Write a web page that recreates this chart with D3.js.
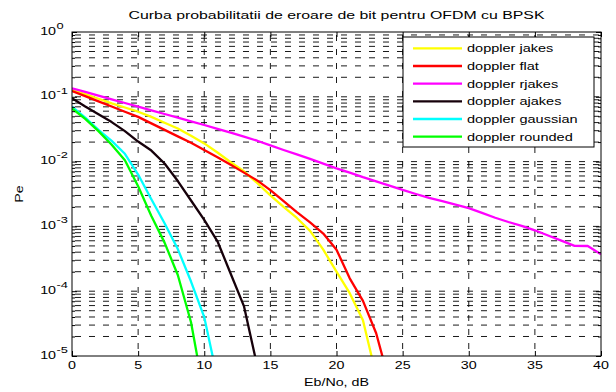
<!DOCTYPE html>
<html>
<head>
<meta charset="utf-8">
<script src="https://cdn.jsdelivr.net/npm/d3@7"></script>
<style>
  body { margin: 0; background: #fff; }
  text { font-family: Arial, "Liberation Sans", Helvetica, sans-serif; fill: #000; }
</style>
</head>
<body>
<svg id="chart" width="616" height="392"></svg>
<script>
// Eb/No axis (dB)
const ebNo = [0, 1, 2, 3, 4, 5, 6, 7, 8, 9, 10, 11, 12, 13, 14, 15, 16, 17, 18, 19, 20,
              21, 22, 23, 24, 25, 26, 27, 28, 29, 30, 31, 32, 33, 34, 35, 36, 37, 38, 39, 40];

// Bit error probability per Doppler spectrum, one value per dB step from 0 dB
const peJakes = [0.1274, 0.1096, 0.0933, 0.0794, 0.0684, 0.0589, 0.0490, 0.0398, 0.0324, 0.0251,
                 0.0191, 0.0138, 0.00977, 0.00708, 0.00468, 0.00302, 0.00200, 0.00135, 0.000851,
                 0.000437, 0.000200, 0.0000933, 0.0000355, 0.00000501];
const peFlat = [0.1230, 0.1023, 0.0851, 0.0708, 0.0589, 0.0490, 0.0389, 0.0309, 0.0245, 0.0195,
                0.0151, 0.0117, 0.00891, 0.00676, 0.00513, 0.00363, 0.00245, 0.00166, 0.00115,
                0.000776, 0.000437, 0.000158, 0.0000708, 0.0000224, 0.00000398];
const peRjakes = [0.1352, 0.1189, 0.1042, 0.0912, 0.0802, 0.0703, 0.0617, 0.0543, 0.0479, 0.0419,
                  0.0367, 0.0320, 0.0279, 0.0243, 0.0210, 0.0178, 0.0151, 0.0129, 0.0110, 0.00933,
                  0.00787, 0.00676, 0.00575, 0.00495, 0.00427, 0.00365, 0.00316, 0.00275, 0.00245,
                  0.00216, 0.00191, 0.00162, 0.00136, 0.00117, 0.00102, 0.000871, 0.000724,
                  0.000603, 0.000501, 0.000498, 0.000372];
const peAjakes = [0.0955, 0.0708, 0.0537, 0.0407, 0.0295, 0.0204, 0.0148, 0.00933, 0.00501,
                  0.00251, 0.00126, 0.000589, 0.000186, 0.0000589, 0.00000708];
const peGaussian = [0.0708, 0.0479, 0.0309, 0.0209, 0.0132, 0.00631, 0.00263, 0.00112, 0.000447,
                    0.000141, 0.0000398, 0.00000447];
const peRounded = [0.0661, 0.0457, 0.0295, 0.0182, 0.0105, 0.00417, 0.00145, 0.000562, 0.000178,
                   0.0000331, 0.00000251];

const seriesNames = ["doppler jakes", "doppler flat", "doppler rjakes",
                     "doppler ajakes", "doppler gaussian", "doppler rounded"];
const seriesColors = ["#ffff00", "#ff0000", "#ff00ff", "#16000a", "#00ffff", "#00ff00"];

const xTickValues = [0, 5, 10, 15, 20, 25, 30, 35, 40];
const yDecades = [1e-5, 1e-4, 1e-3, 1e-2, 1e-1, 1];
const yExponents = ["-5", "-4", "-3", "-2", "-1", "0"];

const titleText = "Curba probabilitatii de eroare de bit pentru OFDM cu BPSK";
const xLabelText = "Eb/No, dB";
const yLabelText = "Pe";

// ---- layout ----
const svg = d3.select("#chart");
const plot = { left: 72, right: 601, top: 32, bottom: 356 };
const textStretch = 1.36;   // wide glyphs used for every label
const fontSize = 10.5;

const x = d3.scaleLinear().domain([0, 40]).range([plot.left, plot.right]);
const y = d3.scaleLog().domain([1e-5, 1]).range([plot.bottom, plot.top]);

svg.append("rect").attr("width", 616).attr("height", 392).attr("fill", "#fff");

// helper: place a horizontally stretched text at (px, py)
function wideText(parent, px, py, str, size, anchor, sx) {
  return parent.append("text")
    .attr("transform", `translate(${px},${py}) scale(${sx},1)`)
    .attr("text-anchor", anchor)
    .attr("font-size", size)
    .text(str);
}

// ---- grid (dashed, major and minor) ----
const grid = svg.append("g").attr("fill", "none").attr("stroke", "#000")
  .attr("stroke-width", 0.9).attr("stroke-dasharray", "6,8").attr("stroke-dashoffset", 11);

const yGridValues = y.ticks().filter(v => v > 1e-5 * 1.0001 && v < 0.9999);
grid.selectAll("line.hg").data(yGridValues).join("line")
  .attr("class", "hg")
  .attr("x1", plot.left).attr("x2", plot.right)
  .attr("y1", d => y(d)).attr("y2", d => y(d));

grid.selectAll("line.vg").data(xTickValues.filter(v => v > 0 && v < 40)).join("line")
  .attr("class", "vg")
  .attr("x1", d => x(d)).attr("x2", d => x(d))
  .attr("y1", plot.top).attr("y2", plot.bottom);

// ---- curves ----
svg.append("clipPath").attr("id", "plotClip")
  .append("rect").attr("x", plot.left).attr("y", plot.top)
  .attr("width", plot.right - plot.left).attr("height", plot.bottom - plot.top);

const seriesValues = [peJakes, peFlat, peRjakes, peAjakes, peGaussian, peRounded];
const series = seriesValues.map((vals, i) => ({
  name: seriesNames[i],
  color: seriesColors[i],
  points: vals.map((v, j) => ({ x: ebNo[j], y: v }))
}));

const line = d3.line().x(d => x(d.x)).y(d => y(d.y));

svg.append("g").attr("clip-path", "url(#plotClip)")
  .selectAll("path").data(series).join("path")
  .attr("fill", "none")
  .attr("stroke", d => d.color)
  .attr("stroke-width", 2.3)
  .attr("stroke-linejoin", "round")
  .attr("d", d => line(d.points));

// ---- axes box and inward ticks ----
const axes = svg.append("g");

function tickAxis(axisGen, tx, ty) {
  const g = axes.append("g").attr("transform", `translate(${tx},${ty})`).call(axisGen);
  g.select(".domain").remove();
  g.selectAll("text").remove();
  g.selectAll(".tick line").attr("stroke", "#000");
  return g;
}

const yMinor = y.ticks().filter(v => !yDecades.some(d => Math.abs(d - v) / d < 1e-6));
tickAxis(d3.axisLeft(y).tickValues(yDecades).tickSize(-5), plot.left, 0);
tickAxis(d3.axisLeft(y).tickValues(yMinor).tickSize(-3), plot.left, 0);
tickAxis(d3.axisRight(y).tickValues(yDecades).tickSize(-5), plot.right, 0);
tickAxis(d3.axisRight(y).tickValues(yMinor).tickSize(-3), plot.right, 0);
tickAxis(d3.axisBottom(x).tickValues(xTickValues).tickSize(-5), 0, plot.bottom);
tickAxis(d3.axisTop(x).tickValues(xTickValues).tickSize(-5), 0, plot.top);

axes.append("rect")
  .attr("x", plot.left).attr("y", plot.top)
  .attr("width", plot.right - plot.left).attr("height", plot.bottom - plot.top)
  .attr("fill", "none").attr("stroke", "#000").attr("stroke-width", 1);

// x tick labels
xTickValues.forEach(v => {
  wideText(svg, x(v), plot.bottom + 12.5, String(v), fontSize, "middle", textStretch);
});

// y tick labels: base "10" right-aligned, exponent raised after it
yDecades.forEach((v, i) => {
  const ty = y(v);
  wideText(svg, 56, ty + 2.5, "10", fontSize, "end", textStretch);
  wideText(svg, 56.5, ty - 3.2, yExponents[i], fontSize * 0.9, "start", textStretch);
});

// ---- title and axis labels ----
wideText(svg, (plot.left + plot.right) / 2, 19, titleText, 11.5, "middle", 1.38);
wideText(svg, (plot.left + plot.right) / 2, 386, xLabelText, fontSize, "middle", textStretch);
svg.append("text")
  .attr("transform", `translate(23,${(plot.top + plot.bottom) / 2}) rotate(-90) scale(${textStretch},1)`)
  .attr("text-anchor", "middle").attr("font-size", fontSize)
  .text(yLabelText);

// ---- legend ----
const legendBox = { x: 403, y: 37, w: 191, h: 110 };
const legend = svg.append("g");
legend.append("rect")
  .attr("x", legendBox.x).attr("y", legendBox.y)
  .attr("width", legendBox.w).attr("height", legendBox.h)
  .attr("fill", "#fff").attr("stroke", "#000").attr("stroke-width", 1);

const rowY = d3.scalePoint().domain(seriesNames).range([48.3, 136.7]);
series.forEach(s => {
  const cy = rowY(s.name);
  legend.append("line")
    .attr("x1", 413).attr("x2", 462).attr("y1", cy).attr("y2", cy)
    .attr("stroke", s.color).attr("stroke-width", 2.3);
  wideText(legend, 467, cy + 4, s.name, 11, "start", 1.32);
});
</script>
</body>
</html>
